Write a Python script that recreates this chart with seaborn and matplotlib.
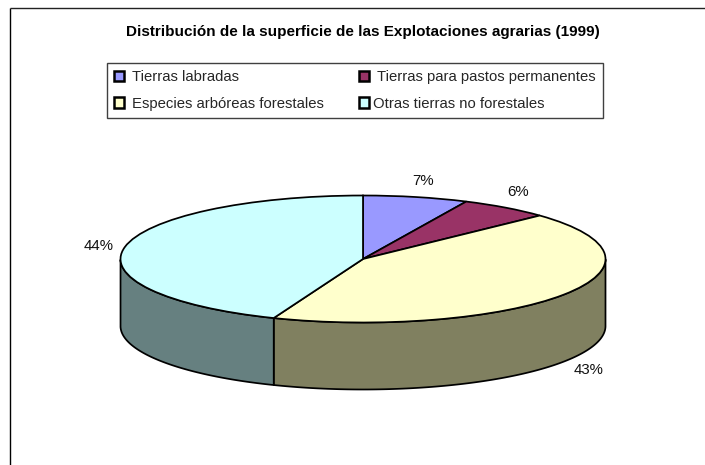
"""Distribution of farm land (1999) as a tilted Excel-style pie."""

import numpy as np
import matplotlib
matplotlib.use("Agg")
import matplotlib.pyplot as plt
from matplotlib.patches import Patch, Polygon
import seaborn as sns

categories = ["Tierras labradas", "Tierras para pastos permanentes",
              "Especies arbóreas forestales", "Otras tierras no forestales"]
values = [7, 6, 43, 44]
title = "Distribución de la superficie de las Explotaciones agrarias (1999)"

top_colors = ["#9999FF", "#993366", "#FFFFCC", "#CCFFFF"]
side_colors = ["#5C5C99", "#5C1F3D", "#808060", "#668080"]

W, H = 705, 465
LW = 1.25
sns.set_theme(style="white")
plt.rcParams["font.family"] = ["Liberation Sans", "DejaVu Sans"]

fig = plt.figure(figsize=(W / 100, H / 100), dpi=100, facecolor="white")

# overlay in pixel coords for the frame and the text
bg = fig.add_axes([0, 0, 1, 1])
bg.set_xlim(0, W)
bg.set_ylim(H, 0)
bg.axis("off")
bg.plot([10, 10], [H, 8.5], color="black", lw=1.0, solid_capstyle="butt")
bg.plot([10, W], [8.5, 8.5], color="#222222", lw=1.0, solid_capstyle="butt")
bg.text(363, 32, title, ha="center", va="center", fontsize=11.0,
        fontweight="bold", color="black")

# pie axes: x/y are in radii, the ellipse comes from the non equal scale
left, right, top, mid_bottom = 120.5, 605.5, 195.5, 322.5
depth_px = 67
ry_px = (mid_bottom - top) / 2
depth = depth_px / ry_px
ax = fig.add_axes([left / W, 1 - (mid_bottom + depth_px) / H,
                   (right - left) / W, (mid_bottom + depth_px - top) / H])
ax.patch.set_alpha(0)
ax.axis("off")

# side wall, only the front half of the disc shows
edges = 90 - 3.6 * np.concatenate([[0], np.cumsum(values)])
for i in range(len(values)):
    t = np.radians(np.linspace(edges[i + 1], edges[i], 200))
    t = t[np.sin(t) <= 0]
    if len(t) < 2:
        continue
    x, y = np.cos(t), np.sin(t)
    pts = np.column_stack([np.r_[x, x[::-1]], np.r_[y, y[::-1] - depth]])
    ax.add_patch(Polygon(pts, closed=True, facecolor=side_colors[i],
                         edgecolor="black", lw=LW, joinstyle="round",
                         clip_on=False, zorder=1))

wedges, _ = ax.pie(values, colors=top_colors, startangle=90, counterclock=False,
                   wedgeprops={"edgecolor": "black", "linewidth": LW, "zorder": 2,
                               "clip_on": False})
ax.set_aspect("auto")
ax.set_xlim(-1, 1)
ax.set_ylim(-1 - depth, 1)

# percent labels sit outside the body
label_pos = [(423, 181), (518, 192), (589, 370), (99, 246)]
for v, (px, py) in zip(values, label_pos):
    bg.text(px, py, f"{v}%", ha="center", va="center", fontsize=10.8, color="#111111")

handles = [Patch(facecolor=c, edgecolor="black", linewidth=1.8) for c in top_colors]
order = [0, 2, 1, 3]
leg = bg.legend([handles[i] for i in order], [categories[i] for i in order],
                ncol=2, loc="upper left",
                bbox_to_anchor=(107 / W, 1 - 63 / H), bbox_transform=fig.transFigure,
                fontsize=10.7, fancybox=False, framealpha=1, edgecolor="#404040",
                handlelength=0.68, handleheight=0.68, handletextpad=0.55,
                columnspacing=2.35, labelspacing=0.85, borderpad=0.47, borderaxespad=0)
leg.get_frame().set_linewidth(1.0)
leg.set_zorder(5)
# last entry hugs its swatch in the original
leg.get_texts()[3].set_position((-4, 0))

fig.savefig("out.png", dpi=100)
